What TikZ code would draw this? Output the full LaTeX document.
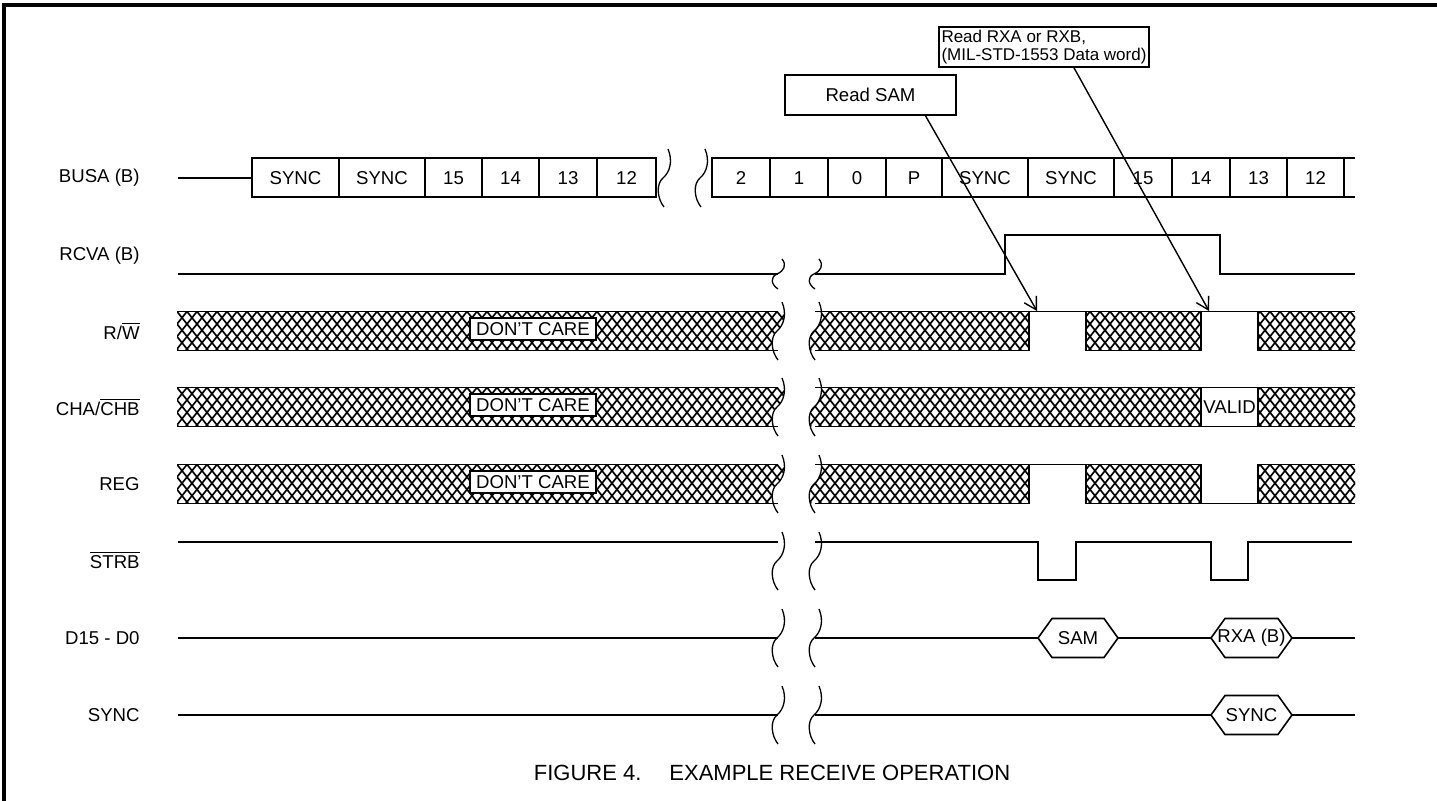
\documentclass[tikz,border=0pt]{standalone}
\usepackage{fontspec}
\setmainfont{Liberation Sans}
\usetikzlibrary{arrows.meta}

\newcommand\lbl{\fontsize{9.3}{9.5}\selectfont}
\newcommand\ovl[1]{$\overline{\hbox{#1}}$}
% break mark: centre x, centre y, half height
\newcommand\brkcurve[3]{({#1+5},{#2-#3}) .. controls ({#1+10},{#2-0.6*#3}) and ({#1+7},{#2-0.2*#3}) .. (#1,#2) .. controls ({#1-7},{#2+0.2*#3}) and ({#1-6},{#2+0.7*#3}) .. ({#1+1},{#2+#3})}
% crossed lines between x #1 and #2, top #3, bottom #4
\newcommand\hatchfill[4]{%
  \pgfmathsetmacro\ha{#1-40}\pgfmathsetmacro\hb{#1-30}\pgfmathsetmacro\hc{#2+40}%
  \foreach \k in {\ha,\hb,...,\hc}
    \draw[hatchline] (\k,#3) -- ++({0.8*(#4-#3)},{#4-#3}) (\k,#3) -- ++({-0.8*(#4-#3)},{#4-#3});}
% don't care band on both sides of the break
\newcommand\dontcarerow[1]{%
  \pgfmathsetmacro\yt{#1-19.5}\pgfmathsetmacro\yb{#1+19.5}%
  \begin{scope}
    \clip \brkcurve{777}{#1}{29} -- (170,{#1+29}) -- (170,{#1-29}) -- cycle;
    \clip (177,\yt) rectangle (800,\yb);
    \hatchfill{177}{800}{\yt}{\yb}
  \end{scope}
  \begin{scope}
    \clip \brkcurve{814}{#1}{29} -- (1355,{#1+29}) -- (1355,{#1-29}) -- cycle;
    \clip (800,\yt) rectangle (1355,\yb);
    \hatchfill{800}{1355}{\yt}{\yb}
  \end{scope}
  \draw[sig] (177,\yt) -- (778,\yt) (177,\yb) -- (778,\yb);}
% bus value outline
\newcommand\hexbus[3]{(#1,#3) -- ({#1+14},{#3-19.5}) -- ({#2-14},{#3-19.5}) -- (#2,#3) -- ({#2-14},{#3+19.5}) -- ({#1+14},{#3+19.5}) -- cycle}

\begin{document}
\begin{tikzpicture}[
        x=0.5pt, y=-0.5pt,
        sig/.style={line width=0.8pt},
        brk/.style={line width=0.65pt},
        hatchline/.style={line width=0.85pt},
        siglabel/.style={anchor=east, font=\lbl, inner sep=0pt},
        cell/.style={font=\lbl, inner sep=0pt},
        dcbox/.style={draw, fill=white, line width=0.6pt, inner sep=0pt, minimum width=63pt, minimum height=11pt, font=\lbl},
        callout/.style={draw, line width=0.8pt, inner sep=0pt, font=\lbl},
        callarrow/.style={-{Straight Barb[length=6pt,width=7pt]}, line width=0.7pt}
    ]
    \useasboundingbox (0,0) rectangle (1437,801);

    % Frame
    \draw[line width=1.6pt] (4,801) -- (4,5) -- (1437,5);

    % Signal names
    \node[siglabel] (lbusa) at (140,178) {BUSA (B)};
    \node[siglabel] (lrcva) at (140,256) {RCVA (B)};
    \node[siglabel] (lrw) at (140,331) {R/\ovl{W}};
    \node[siglabel] (lcha) at (140,407) {CHA/\ovl{CHB}};
    \node[siglabel] (lreg) at (140,484) {REG};
    \node[siglabel] (lstrb) at (140,560) {\ovl{STRB}};
    \node[siglabel] (ldata) at (140,638) {D15 - D0};
    \node[siglabel] (lsync) at (140,715) {SYNC};

    % BUSA (B)
    \draw[sig] (178,178) -- (252,178);
    \foreach \a/\b/\t [count=\i] in {252/339/SYNC, 339/425/SYNC, 425/482/15, 482/539/14, 539/597/13, 597/656/12} {
        \draw[sig] (\a,158) rectangle (\b,197);
        \node[cell] (bl\i) at ({(\a+\b)/2},178) {\t};
    }
    \foreach \a/\b/\t [count=\i] in {712/770/2, 770/828/1, 828/886/0, 886/942/P, 942/1028/SYNC, 1028/1114/SYNC, 1114/1172/15, 1172/1230/14, 1230/1287/13, 1287/1344/12} {
        \draw[sig] (\a,158) rectangle (\b,197);
        \node[cell] (br\i) at ({(\a+\b)/2},178) {\t};
    }
    \draw[sig] (1344,158) -- (1355,158) (1344,197) -- (1355,197);

    % RCVA (B)
    \draw[sig] (178,274) -- (778,274);
    \draw[sig] (815,274) -- (1005,274) -- (1005,235) -- (1220,235) -- (1220,274) -- (1355,274);

    % R/W
    \dontcarerow{331}
    \fill[white] (1029,309) rectangle (1086,353) (1201,309) rectangle (1258,353);
    \draw[sig] (815,311.5) -- (1355,311.5);
    \draw[sig] (815,350.5) -- (1029,350.5) -- (1029,311.5) (1086,311.5) -- (1086,350.5) -- (1201,350.5) -- (1201,311.5) (1258,311.5) -- (1258,350.5) -- (1355,350.5);
    \node[dcbox] (dcrw) at (533,329) {DON’T CARE};

    % CHA/CHB
    \dontcarerow{407}
    \fill[white] (1201,385) rectangle (1258,429);
    \draw[sig] (815,387.5) -- (1355,387.5) (815,426.5) -- (1355,426.5) (1201,387.5) -- (1201,426.5) (1258,387.5) -- (1258,426.5);
    \node[cell] (valid) at (1229.5,407) {VALID};
    \node[dcbox] (dccha) at (533,405) {DON’T CARE};

    % REG
    \dontcarerow{484}
    \fill[white] (1029,462) rectangle (1086,506) (1201,462) rectangle (1258,506);
    \draw[sig] (815,464.5) -- (1201,464.5) -- (1201,503.5) (1258,503.5) -- (1258,464.5) -- (1355,464.5);
    \draw[sig] (815,503.5) -- (1029,503.5) -- (1029,464.5) (1086,464.5) -- (1086,503.5) -- (1355,503.5);
    \node[dcbox] (dcreg) at (533,482) {DON’T CARE};

    % STRB
    \draw[sig] (178,542) -- (778,542);
    \draw[sig] (815,542) -- (1038,542) -- (1038,580) -- (1076,580) -- (1076,542) -- (1211,542) -- (1211,580) -- (1248,580) -- (1248,542) -- (1352,542);

    % D15 - D0
    \draw[sig] (178,638) -- (778,638) (815,638) -- (1038,638) (1118,638) -- (1211,638) (1292,638) -- (1355,638);
    \draw[sig] \hexbus{1038}{1118}{638};
    \draw[sig] \hexbus{1211}{1292}{638};
    \node[cell] (dsam) at (1078,638) {SAM};
    \node[cell] (drxa) at (1251.5,638) {RXA (B)};

    % SYNC
    \draw[sig] (178,715) -- (778,715) (815,715) -- (1211,715) (1292,715) -- (1355,715);
    \draw[sig] \hexbus{1211}{1292}{715};
    \node[cell] (ssync) at (1251.5,715) {SYNC};

    % Break marks
    \draw[brk] \brkcurve{663}{178}{29};
    \draw[brk] \brkcurve{700}{178}{29};
    \foreach \cy/\h in {274/15, 331/29, 407/29, 484/29, 561/29, 638/29, 715/29} {
        \draw[brk] \brkcurve{777}{\cy}{\h};
        \draw[brk] \brkcurve{814}{\cy}{\h};
    }

    % Callouts
    \node[callout, minimum width=85.5pt, minimum height=20pt] (readsam) at (870.5,95) {Read SAM};
    \node[callout, minimum width=105pt, minimum height=20pt, align=left, font=\fontsize{8.5}{9}\selectfont] (readrxa) at (1044,47) {Read RXA or RXB,\\(MIL-STD-1553 Data word)};
    \coordinate (samtip) at (1037,311);
    \coordinate (rxatip) at (1209,311);
    \draw[callarrow] ([xshift=27.5pt]readsam.south) -- (samtip);
    \draw[callarrow] ([xshift=15pt]readrxa.south) -- (rxatip);

    % Caption
    \node[font=\fontsize{11}{13}\selectfont] (caption) at (772,773) {FIGURE 4.\hspace{14pt}EXAMPLE RECEIVE OPERATION};

\end{tikzpicture}
\end{document}
